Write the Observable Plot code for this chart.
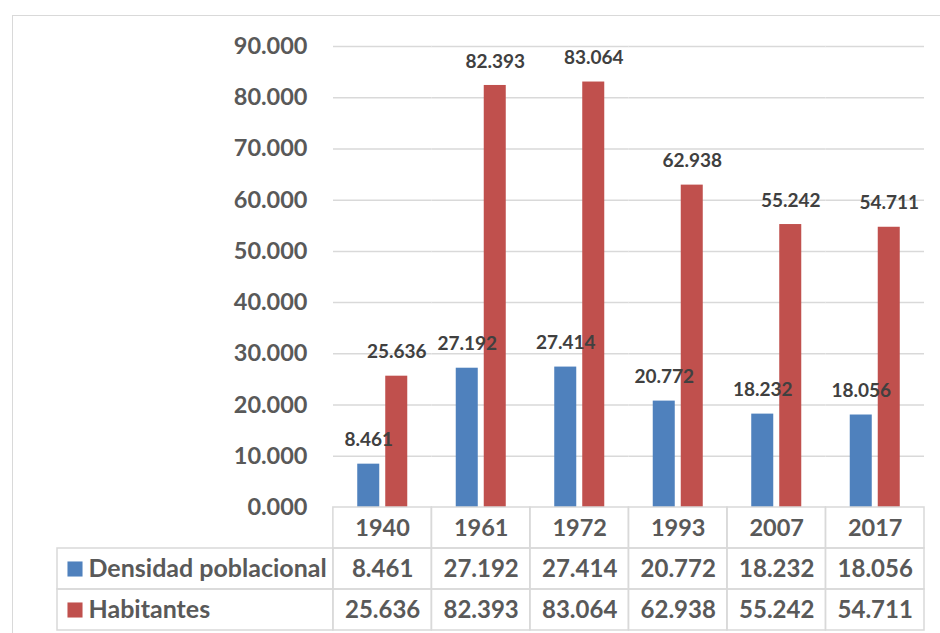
<!DOCTYPE html>
<html>
<head>
<meta charset="utf-8">
<script src="https://cdn.jsdelivr.net/npm/d3@7"></script>
<script src="https://cdn.jsdelivr.net/npm/@observablehq/plot@0.6"></script>
<style>
  html, body { margin: 0; padding: 0; background: #fff; }
  #wrap { position: relative; width: 940px; height: 633px; overflow: hidden; font-family: Lato, "Liberation Sans", sans-serif; }
  #frame { position: absolute; left: 12px; top: 15px; width: 1000px; height: 700px; border: 1.5px solid #d9d9d9; box-sizing: border-box; }
  #chart, #table { position: absolute; left: 0; }
  #chart { top: 0; }
  #table { top: 506px; }
</style>
</head>
<body>
<div id="wrap">
  <div id="frame"></div>
  <div id="chart"></div>
  <div id="table"></div>
</div>
<script>
// Census years and the two series (values shown with three decimals)
const years = ["1940", "1961", "1972", "1993", "2007", "2017"];
const seriesNames = ["Densidad poblacional", "Habitantes"];
const densidad = [8.461, 27.192, 27.414, 20.772, 18.232, 18.056];
const habitantes = [25.636, 82.393, 83.064, 62.938, 55.242, 54.711];
const yTicks = [0, 10, 20, 30, 40, 50, 60, 70, 80, 90];

const colors = ["#4F81BD", "#C0504D"];
const fmt = d => d.toFixed(3);
const font = "Lato, 'Liberation Sans', sans-serif";

const rows = [];
years.forEach((y, i) => {
  rows.push({year: y, series: seriesNames[0], value: densidad[i]});
  rows.push({year: y, series: seriesNames[1], value: habitantes[i]});
});

// Clustered column chart
const chart = Plot.plot({
  width: 940,
  height: 530,
  marginTop: 46,
  marginBottom: 23,
  marginLeft: 333,
  marginRight: 16,
  style: {fontFamily: font, fontWeight: "bold", background: "transparent"},
  fx: {domain: years, padding: 0, axis: null, round: false},
  x: {domain: seriesNames, paddingInner: 0.214, paddingOuter: 0.866, axis: null, round: false},
  y: {domain: [0, 90], axis: null},
  color: {domain: seriesNames, range: colors},
  marks: [
    Plot.ruleY(yTicks.filter(d => d > 0), {stroke: "#d9d9d9", strokeWidth: 1.5}),
    Plot.axisY(yTicks, {
      label: null, tickSize: 0, tickPadding: 26, tickFormat: fmt,
      fontSize: 23.5, fill: "#595959", fontWeight: "bold"
    }),
    Plot.barY(rows, {fx: "year", x: "series", y: "value", fill: "series"}),
    Plot.text(rows, {
      fx: "year", x: "series", y: "value", text: d => fmt(d.value),
      dy: -24, fontSize: 19, fill: "#404040", fontWeight: "bold"
    })
  ]
});
document.getElementById("chart").appendChild(chart);

// Data table under the chart: a header row of years and one row per series
const legendWidth = 2.8; // legend column width, in year-column units
const headerCells = years.map((y, i) => ({x1: i, x2: i + 1, y1: 0, y2: 1}));
const valueCells = [];
const valueTexts = [];
seriesNames.forEach((s, r) => {
  const vals = r === 0 ? densidad : habitantes;
  valueCells.push({x1: -legendWidth, x2: 0, y1: r + 1, y2: r + 2});
  years.forEach((y, i) => {
    valueCells.push({x1: i, x2: i + 1, y1: r + 1, y2: r + 2});
    valueTexts.push({x: i + 0.5, y: r + 1.5, label: fmt(vals[i])});
  });
});
const legendRows = seriesNames.map((s, r) => ({name: s, x: -legendWidth, y: r + 1.5}));

const table = Plot.plot({
  width: 940,
  height: 127,
  marginTop: 1,
  marginBottom: 3,
  marginLeft: 57,
  marginRight: 16,
  style: {fontFamily: font, fontWeight: "bold", background: "transparent", overflow: "visible"},
  x: {domain: [-legendWidth, years.length], axis: null},
  y: {domain: [0, 3], reverse: true, axis: null},
  color: {domain: seriesNames, range: colors},
  marks: [
    Plot.rect(headerCells.concat(valueCells), {
      x1: "x1", x2: "x2", y1: "y1", y2: "y2",
      fill: "none", stroke: "#d9d9d9", strokeWidth: 1.5
    }),
    Plot.text(years, {
      x: (d, i) => i + 0.5, y: 0.5, text: d => d,
      fontSize: 23.5, fill: "#595959", fontWeight: "bold"
    }),
    Plot.text(valueTexts, {
      x: "x", y: "y", text: "label",
      fontSize: 24, fill: "#595959", fontWeight: "bold"
    }),
    Plot.dot(legendRows, {
      x: "x", y: "y", dx: 17.5, symbol: "square", r: 8.5,
      fill: "name", stroke: null
    }),
    Plot.text(legendRows, {
      x: "x", y: "y", dx: 31, text: "name", textAnchor: "start",
      fontSize: 25, fill: "#595959", fontWeight: "bold"
    })
  ]
});
document.getElementById("table").appendChild(table);
</script>
</body>
</html>
